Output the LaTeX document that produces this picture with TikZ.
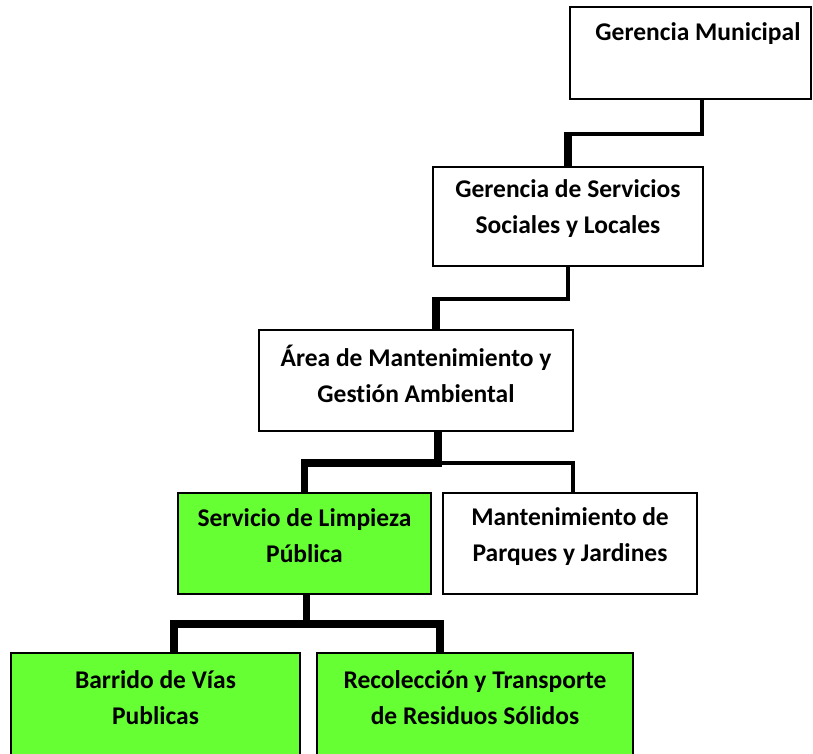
\documentclass[tikz,border=0pt]{standalone}
\usepackage{fontspec}
\setmainfont{Carlito}[Ligatures=NoCommon]
\definecolor{lgreen}{RGB}{102,255,51}
\begin{document}
\begin{tikzpicture}[x=1pt,y=-1pt,
  box/.style={draw=black, line width=2.2pt, fill=white, inner sep=0pt},
  gbox/.style={box, fill=lgreen},
  lbl/.style={align=center, font=\fontsize{25.5}{36}\selectfont\bfseries, inner sep=0pt},
  thinline/.style={line width=4pt},
  thickline/.style={line width=7.5pt}]
\clip (0,0) rectangle (813,753);
\fill[white] (0,0) rectangle (813,753);
% boxes
\node[box, minimum width=241pt, minimum height=92pt] (gm) at (690.5,53) {};
\node[box, minimum width=270pt, minimum height=99pt] (gs) at (568,216.5) {};
\node[box, minimum width=314pt, minimum height=101pt] (am) at (416,380.5) {};
\node[gbox, minimum width=253pt, minimum height=101pt] (sl) at (304.5,543.5) {};
\node[box, minimum width=254pt, minimum height=101pt] (mp) at (570,543.5) {};
\node[gbox, minimum width=289pt, minimum height=117pt] (bv) at (155.5,711.5) {};
\node[gbox, minimum width=316pt, minimum height=117pt] (rt) at (475,711.5) {};
% labels
\node[lbl] (tgm) at (698,34) {Gerencia Municipal};
\node[lbl] (tgs) at (568,209) {Gerencia de Servicios\\Sociales y Locales};
\node[lbl] (tam) at (416,374) {Área de Mantenimiento y\\Gestión Ambiental};
\node[lbl] (tsl) at (304.5,536) {Servicio de Limpieza\\Pública};
\node[lbl] (tmp) at (570,537) {Mantenimiento de\\Parques y Jardines};
\node[lbl] (tbv) at (155.5,697.5) {Barrido de Vías\\Publicas};
\node[lbl] (trt) at (475,697.5) {Recolección y Transporte\\de Residuos Sólidos};
% connectors
\coordinate (j1) at (568,134);
\draw[thinline] ([xshift=11.5pt]gm.south) |- (j1);
\draw[thickline] ([yshift=2pt]j1) -- (gs.north);
\coordinate (j2) at (436,299);
\coordinate (amtop) at ([xshift=20pt]am.north);
\draw[thinline] (gs.south) |- (j2);
\draw[thickline] ([yshift=2pt]j2) -- (amtop);
\coordinate (ambot) at ([xshift=22pt]am.south);
\coordinate (j3) at (438,463);
\coordinate (j4) at (sl.north |- j3);
\coordinate (mptop) at ([xshift=3pt]mp.north);
\draw[thinline] (j3) -| (mptop);
\draw[thickline] (ambot) |- (j4) -- (sl.north);
\coordinate (slbot) at ([xshift=2pt]sl.south);
\coordinate (j6) at (306.5,624);
\coordinate (bvtop) at ([xshift=18.5pt]bv.north);
\coordinate (rttop) at ([xshift=-35pt]rt.north);
\draw[thickline] (slbot) -- (j6);
\draw[thickline] (bvtop) |- (j6) -| (rttop);
\end{tikzpicture}
\end{document}
